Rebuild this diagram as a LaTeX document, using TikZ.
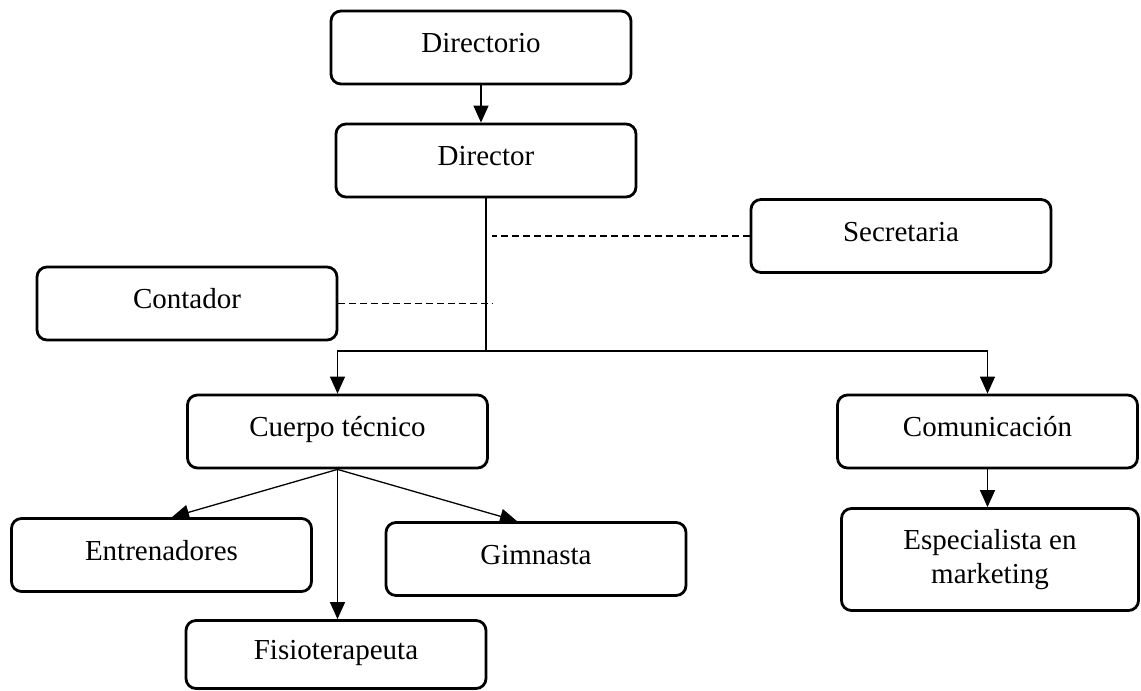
\documentclass[tikz,border=0pt]{standalone}
\usepackage{fontspec}
\setmainfont{Liberation Serif}
\usetikzlibrary{arrows.meta,calc}
\begin{document}
\begin{tikzpicture}[x=1pt,y=-1pt,
  boxshape/.style={draw, line width=2.8pt, rounded corners=10pt, minimum width=300pt, minimum height=73pt, inner sep=0pt, font=\fontsize{29}{34}\selectfont},
  onel/.style={boxshape, text height=19pt, text depth=9pt},
  thinln/.style={line width=1.3pt},
  conn/.style={thinln, -{Triangle[length=17pt,width=15pt]}},
  dashd/.style={thinln, dash pattern=on 7pt off 4pt}
]
\fill[white] (0,0) rectangle (1141,691);
\useasboundingbox (0,0) rectangle (1141,691);

\node[onel] (dirio) at (481,47.5) {Directorio};
\node[onel] (dir) at (486,160.5) {Director};
\node[onel] (sec) at (901,236) {Secretaria};
\node[onel] (cont) at (187,303.5) {Contador};
\node[onel] (cuerpo) at (337.5,431.5) {Cuerpo técnico};
\node[onel] (com) at (987.5,431.5) {Comunicación};
\node[onel] (ent) at (161.5,555) {Entrenadores};
\node[onel] (gim) at (536,559) {Gimnasta};
\node[onel, minimum height=68pt] (fis) at (336,654.5) {Fisioterapeuta};
\node[boxshape, align=center, minimum width=297pt, minimum height=102pt] (esp) at (990,559.5) {Especialista en\\marketing};

\coordinate (busY) at (0,351);
\coordinate (bus) at (dir.south |- busY);
\coordinate (dS) at (492,0);
\coordinate (dC) at (493,0);

\draw[conn] (dirio.south) -- (dirio.south |- dir.north);
\draw[thinln] (dir.south) -- (bus);
\draw[conn] (bus) -| (cuerpo.north);
\draw[conn] (bus) -| (com.north);
\draw[dashd] (sec.west) -- (sec.west -| dS);
\draw[dashd] (cont.east) -- (cont.east -| dC);
\draw[conn] (cuerpo.south) -- ($(ent.north)+(10.5,0)$);
\draw[conn] (cuerpo.south) -- (cuerpo.south |- fis.north);
\draw[conn] (cuerpo.south) -- ($(gim.north)+(-19,0)$);
\draw[conn] (com.south) -- (com.south |- esp.north);
\end{tikzpicture}
\end{document}
